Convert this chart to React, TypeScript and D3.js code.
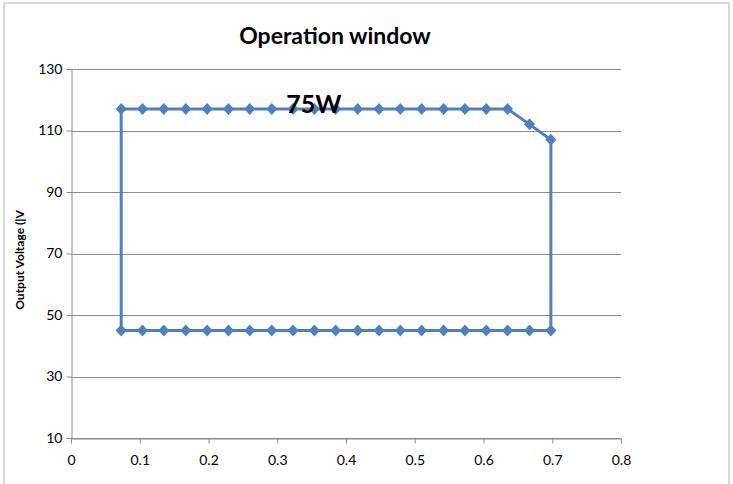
import React, { useEffect, useRef } from 'react';
import * as d3 from 'd3';

// Output current (A) and output voltage (V) around the 75W operation window
const currents = [
  0.073, 0.104, 0.135, 0.167, 0.198, 0.229, 0.26, 0.292, 0.323, 0.354, 0.385,
  0.417, 0.448, 0.479, 0.51, 0.542, 0.573, 0.604, 0.635, 0.667, 0.698,
];
const topVoltages = [
  117, 117, 117, 117, 117, 117, 117, 117, 117, 117, 117,
  117, 117, 117, 117, 117, 117, 117, 117, 112, 107,
];
const bottomVoltage = 45;
const yTicks = [10, 30, 50, 70, 90, 110, 130];
const xTicks = [0, 0.1, 0.2, 0.3, 0.4, 0.5, 0.6, 0.7, 0.8];

const App = () => {
  const ref = useRef<SVGSVGElement>(null);

  useEffect(() => {
    const svg = d3.select(ref.current);
    svg.selectAll('*').remove();

    const width = 733;
    const height = 484;
    const font = 'Lato, "Open Sans", sans-serif';

    const x = d3.scaleLinear().domain([0, 0.8]).range([71, 621]);
    const y = d3.scaleLinear().domain([10, 130]).range([438, 69]);

    svg.attr('width', width).attr('height', height);

    // chart border
    svg.append('path')
      .attr('d', `M4,${height} V3 H729 V${height}`)
      .attr('fill', 'none')
      .attr('stroke', '#b3b3b3')
      .attr('stroke-width', 1);

    // gridlines
    svg.append('g')
      .selectAll('line')
      .data(yTicks)
      .enter()
      .append('line')
      .attr('x1', x(0))
      .attr('x2', x(0.8))
      .attr('y1', d => Math.round(y(d)) + 0.5)
      .attr('y2', d => Math.round(y(d)) + 0.5)
      .attr('stroke', '#8c8c8c');

    const yAxis = svg.append('g')
      .attr('transform', `translate(${Math.round(x(0)) + 0.5},0)`)
      .call(d3.axisLeft(y).tickValues(yTicks).tickSize(5).tickPadding(4).tickFormat(d3.format('d')));
    const xAxis = svg.append('g')
      .attr('transform', `translate(0,${Math.round(y(10)) + 0.5})`)
      .call(d3.axisBottom(x).tickValues(xTicks).tickSize(5).tickPadding(12).tickFormat(d => d === 0 ? '0' : d3.format('.1f')(d as number)));

    [yAxis, xAxis].forEach(a => {
      a.select('.domain').attr('stroke', '#8c8c8c');
      a.selectAll('.tick line').attr('stroke', '#8c8c8c');
      a.selectAll('.tick text')
        .attr('fill', '#000')
        .style('font-family', font)
        .style('font-size', '14px');
    });

    // closed loop: bottom line, up the right edge along the power curve, back, down the left
    const loop: [number, number][] = [];
    currents.forEach(c => loop.push([c, bottomVoltage]));
    for (let i = currents.length - 1; i >= 0; i--) loop.push([currents[i], topVoltages[i]]);
    loop.push([currents[0], bottomVoltage]);

    const line = d3.line<[number, number]>()
      .x(d => x(d[0]))
      .y(d => y(d[1]));

    svg.append('path')
      .datum(loop)
      .attr('d', line)
      .attr('fill', 'none')
      .attr('stroke', '#4f81bd')
      .attr('stroke-width', 3)
      .attr('stroke-linejoin', 'round');

    const markers = loop.slice(0, loop.length - 1);
    svg.append('g')
      .selectAll('path')
      .data(markers)
      .enter()
      .append('path')
      .attr('transform', d => `translate(${x(d[0])},${y(d[1])})`)
      .attr('d', 'M0,-6 L5.5,0 L0,6 L-5.5,0 Z')
      .attr('fill', '#4f81bd');

    svg.append('text')
      .text('Operation window')
      .attr('x', 335)
      .attr('y', 44)
      .attr('text-anchor', 'middle')
      .style('font-family', font)
      .style('font-size', '23px')
      .style('font-weight', 'bold');

    svg.append('text')
      .text('75W')
      .attr('x', 314)
      .attr('y', 113)
      .attr('text-anchor', 'middle')
      .style('font-family', font)
      .style('font-size', '25px')
      .style('font-weight', 'bold');

    svg.append('text')
      .text('Output Voltage (|V')
      .attr('transform', 'translate(24,260) rotate(-90)')
      .attr('text-anchor', 'middle')
      .style('font-family', font)
      .style('font-size', '12px')
      .style('font-weight', 'bold');
  }, []);

  return <svg ref={ref} style={{ position: 'absolute', left: 0, top: 0 }}></svg>;
};

export default App;
